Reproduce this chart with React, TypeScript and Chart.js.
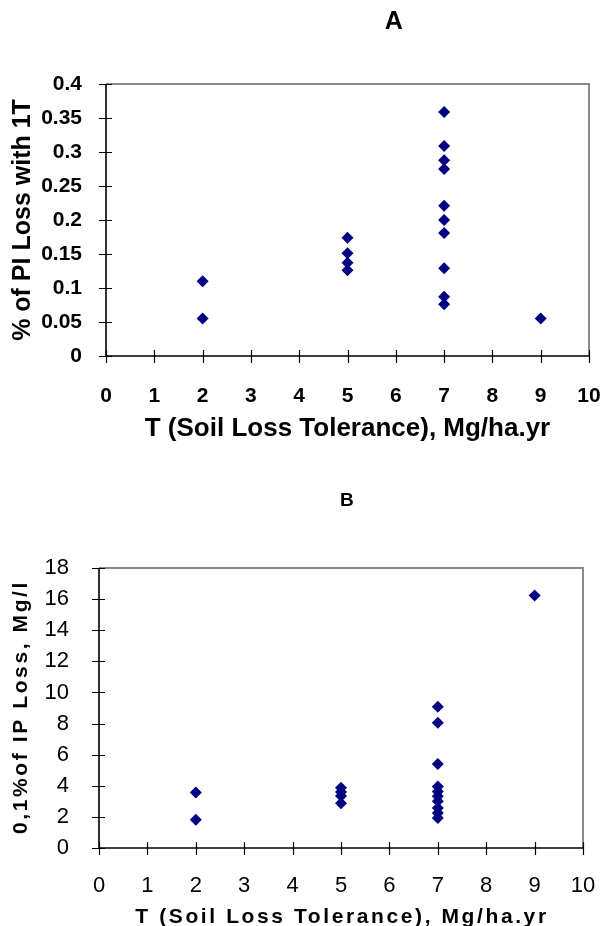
import React, { useEffect, useRef } from 'react';
import { Chart, registerables } from 'chart.js';

Chart.register(...registerables);

// ---------- data ----------
const toleranceA = [2, 2, 5, 5, 5, 5, 7, 7, 7, 7, 7, 7, 7, 7, 7, 7, 9];
const piLossA = [0.11, 0.055, 0.174, 0.151, 0.137, 0.126, 0.359, 0.309, 0.288, 0.275, 0.221, 0.2, 0.181, 0.129, 0.087, 0.076, 0.055];

const toleranceB = [2, 2, 5, 5, 5, 5, 7, 7, 7, 7, 7, 7, 7, 7, 7, 7, 9];
const ipLossB = [3.57, 1.82, 3.87, 3.6, 3.34, 2.87, 9.08, 8.05, 5.4, 3.96, 3.64, 3.32, 3.0, 2.57, 2.25, 1.93, 16.23];

const xRange = [0, 10];
const xStep = 1;
const yRangeA = [0, 0.4];
const yStepA = 0.05;
const yRangeB = [0, 18];
const yStepB = 2;

const titleA = 'A';
const titleB = 'B';
const xTitle = 'T (Soil Loss Tolerance), Mg/ha.yr';
const yTitleA = '% of PI Loss with 1T';
const yTitleB = '0,1%of IP Loss, Mg/l';

// ---------- styles ----------
const FONT = '"Liberation Sans", Arial, sans-serif';
const MARK = '#000080';
const W = 603;
const HA = 460;
const HB = 466;

const framePlugin = {
  id: 'excelFrame',
  beforeDatasetsDraw(chart: any) {
    const { ctx, chartArea, scales } = chart;
    const { left, right, top, bottom } = chartArea;
    const x = scales.x;
    const y = scales.y;
    ctx.save();
    ctx.lineWidth = 2;
    ctx.strokeStyle = '#8a8a8a';
    ctx.beginPath();
    ctx.moveTo(left, top);
    ctx.lineTo(right, top);
    ctx.lineTo(right, bottom);
    ctx.stroke();
    ctx.strokeStyle = '#000';
    ctx.lineWidth = 1.6;
    ctx.beginPath();
    ctx.moveTo(left, top);
    ctx.lineTo(left, bottom);
    ctx.lineTo(right, bottom);
    ctx.stroke();
    ctx.lineWidth = 1.2;
    ctx.beginPath();
    x.ticks.forEach((t: any) => {
      const px = Math.round(x.getPixelForValue(t.value)) + 0.5;
      ctx.moveTo(px, bottom - 6);
      ctx.lineTo(px, bottom + 7);
    });
    y.ticks.forEach((t: any) => {
      const py = Math.round(y.getPixelForValue(t.value)) + 0.5;
      ctx.moveTo(left - 7, py);
      ctx.lineTo(left + 6, py);
    });
    ctx.stroke();
    ctx.restore();
  },
};

function headingPlugin(text: string, fx: number, baseline: number, size: number) {
  return {
    id: 'heading' + text,
    afterDraw(chart: any) {
      const { ctx, chartArea } = chart;
      ctx.save();
      ctx.font = `bold ${size}px ${FONT}`;
      ctx.fillStyle = '#000';
      ctx.textAlign = 'center';
      ctx.textBaseline = 'alphabetic';
      ctx.fillText(text, chartArea.left + fx * (chartArea.right - chartArea.left), baseline);
      ctx.restore();
    },
  };
}

const spacedTitlesB = {
  id: 'spacedTitlesB',
  afterDraw(chart: any) {
    const { ctx, chartArea, height } = chart;
    ctx.save();
    ctx.font = `bold 21px ${FONT}`;
    ctx.fillStyle = '#000';
    (ctx as any).letterSpacing = '2.6px';
    ctx.textAlign = 'center';
    ctx.textBaseline = 'alphabetic';
    ctx.fillText(xTitle, (chartArea.left + chartArea.right) / 2 + 1, height - 3);
    ctx.translate(26.5, (chartArea.top + chartArea.bottom) / 2);
    ctx.rotate(-Math.PI / 2);
    ctx.fillText(yTitleB, 1, 0);
    ctx.restore();
  },
};

function points(xs: number[], ys: number[]) {
  return xs.map((x, i) => ({ x, y: ys[i] }));
}

function dataset(xs: number[], ys: number[]) {
  return {
    data: points(xs, ys),
    pointStyle: 'rectRot',
    pointRadius: 6,
    pointHoverRadius: 6,
    backgroundColor: MARK,
    borderColor: MARK,
    borderWidth: 0,
    showLine: false,
  };
}

const trimLabel = (v: any) => String(Number(Number(v).toFixed(2)));

function fitX(h: number) {
  return (s: any) => {
    s.height = h;
    s.paddingLeft = 0;
    s.paddingRight = 0;
  };
}
function fitY(w: number) {
  return (s: any) => {
    s.width = w;
    s.paddingTop = 0;
    s.paddingBottom = 0;
  };
}

function configA(): any {
  return {
    type: 'scatter',
    data: { datasets: [dataset(toleranceA, piLossA)] },
    options: {
      responsive: false,
      animation: false,
      locale: 'en-US',
      layout: { padding: { top: 84, right: 14, left: 0, bottom: 0 } },
      plugins: { legend: { display: false }, tooltip: { enabled: false }, title: { display: false } },
      scales: {
        x: {
          type: 'linear',
          min: xRange[0],
          max: xRange[1],
          ticks: { stepSize: xStep, padding: 20, color: '#000', font: { family: FONT, size: 21, weight: 'bold' } },
          grid: { display: false },
          border: { display: false },
          title: {
            display: true,
            text: xTitle,
            color: '#000',
            font: { family: FONT, size: 26, weight: 'bold' },
            padding: { top: 0, bottom: 16 },
          },
          afterFit: fitX(HA - 356),
        },
        y: {
          type: 'linear',
          min: yRangeA[0],
          max: yRangeA[1],
          ticks: {
            stepSize: yStepA,
            padding: 16,
            color: '#000',
            font: { family: FONT, size: 21, weight: 'bold' },
            callback: trimLabel,
          },
          grid: { display: false },
          border: { display: false },
          title: {
            display: true,
            text: yTitleA,
            color: '#000',
            font: { family: FONT, size: 25, weight: 'bold' },
            padding: { top: 8, bottom: 0 },
          },
          afterFit: fitY(106),
        },
      },
    },
    plugins: [framePlugin, headingPlugin(titleA, 0.596, 29, 25)],
  };
}

function configB(): any {
  return {
    type: 'scatter',
    data: { datasets: [dataset(toleranceB, ipLossB)] },
    options: {
      responsive: false,
      animation: false,
      locale: 'en-US',
      layout: { padding: { top: 108, right: 20, left: 0, bottom: 0 } },
      plugins: { legend: { display: false }, tooltip: { enabled: false }, title: { display: false } },
      scales: {
        x: {
          type: 'linear',
          min: xRange[0],
          max: xRange[1],
          ticks: { stepSize: xStep, padding: 17, color: '#000', font: { family: FONT, size: 22 } },
          grid: { display: false },
          border: { display: false },
          title: { display: false },
          afterFit: fitX(HB - 388),
        },
        y: {
          type: 'linear',
          min: yRangeB[0],
          max: yRangeB[1],
          ticks: { stepSize: yStepB, padding: 22, color: '#000', font: { family: FONT, size: 22 } },
          grid: { display: false },
          border: { display: false },
          title: { display: false },
          afterFit: fitY(99),
        },
      },
    },
    plugins: [framePlugin, spacedTitlesB, headingPlugin(titleB, 0.512, 46, 19)],
  };
}

function ChartCanvas({ make, width, height, top }: { make: () => any; width: number; height: number; top: number }) {
  const ref = useRef<HTMLCanvasElement | null>(null);
  useEffect(() => {
    if (!ref.current) return;
    const chart = new Chart(ref.current, make());
    return () => chart.destroy();
  }, [make]);
  return (
    <canvas
      ref={ref}
      width={width}
      height={height}
      style={{ position: 'absolute', left: 0, top, width, height, display: 'block' }}
    />
  );
}

export default function App() {
  return (
    <div style={{ position: 'absolute', left: 0, top: 0, width: W, height: HA + HB, background: '#fff' }}>
      <ChartCanvas make={configA} width={W} height={HA} top={0} />
      <ChartCanvas make={configB} width={W} height={HB} top={HA} />
    </div>
  );
}
